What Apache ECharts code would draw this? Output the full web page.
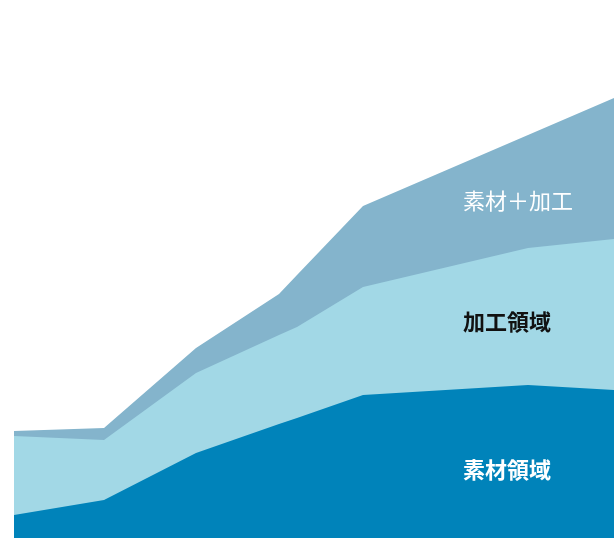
<!DOCTYPE html>
<html>
<head>
<meta charset="utf-8">
<script src="https://cdn.jsdelivr.net/npm/echarts@6/dist/echarts.min.js"></script>
<style>
  html, body { margin: 0; padding: 0; background: #ffffff; }
  #chart { width: 614px; height: 538px; }
</style>
</head>
<body>
<div id="chart"></div>
<script>
// Positions along the horizontal axis (shared by all three layers)
const xPoints = [0, 90, 182, 265, 283, 349, 514, 600];

// Layer values, stacked from the bottom up
const materialValues   = [11.5, 19, 42.5, 57, 60, 71.5, 76.5, 74];     // 素材領域
const processingValues = [39.5, 30, 40, 44.5, 45.5, 54, 68.5, 75.5];   // 加工領域
const combinedValues   = [2.5, 6, 12.5, 20.5, 26, 40.5, 56.5, 70.5];   // 素材＋加工

const layerNames = ['素材領域', '加工領域', '素材＋加工'];
const layerColors = ['#0083ba', '#a2d8e6', '#84b4cc'];

// Running totals so each layer sits on top of the one below it
const layers = [materialValues, processingValues, combinedValues];
const totals = [];
layers.forEach((vals, i) => {
  totals.push(vals.map((v, j) => v + (i > 0 ? totals[i - 1][j] : 0)));
});

const chart = echarts.init(document.getElementById('chart'));
const font = '"Noto Sans CJK JP", "Noto Sans", sans-serif';

// Tallest layer is drawn first so the lower layers paint over it
const series = totals.map((tot, i) => ({
  name: layerNames[i],
  type: 'line',
  data: xPoints.map((x, j) => [x, tot[j]]),
  symbol: 'none',
  lineStyle: { width: 0 },
  areaStyle: { color: layerColors[i], opacity: 1, origin: 'start' },
  itemStyle: { color: layerColors[i] }
})).reverse();

const label = (text, y, color, weight) => ({
  type: 'text', x: 463, y: y, z: 100,
  style: {
    text: text, fill: color,
    font: weight + ' 22px ' + font,
    verticalAlign: 'middle'
  }
});

chart.setOption({
  animation: false,
  backgroundColor: '#ffffff',
  grid: { left: 14, right: 0, top: 0, bottom: 0 },
  xAxis: { type: 'value', min: 0, max: 600, show: false },
  yAxis: { type: 'value', min: 0, max: 269, show: false },
  series: series,
  graphic: [
    label('素材＋加工', 201, '#ffffff', 'normal'),
    label('加工領域', 322, '#111111', 'bold'),
    label('素材領域', 470, '#ffffff', 'bold')
  ]
});
</script>
</body>
</html>
